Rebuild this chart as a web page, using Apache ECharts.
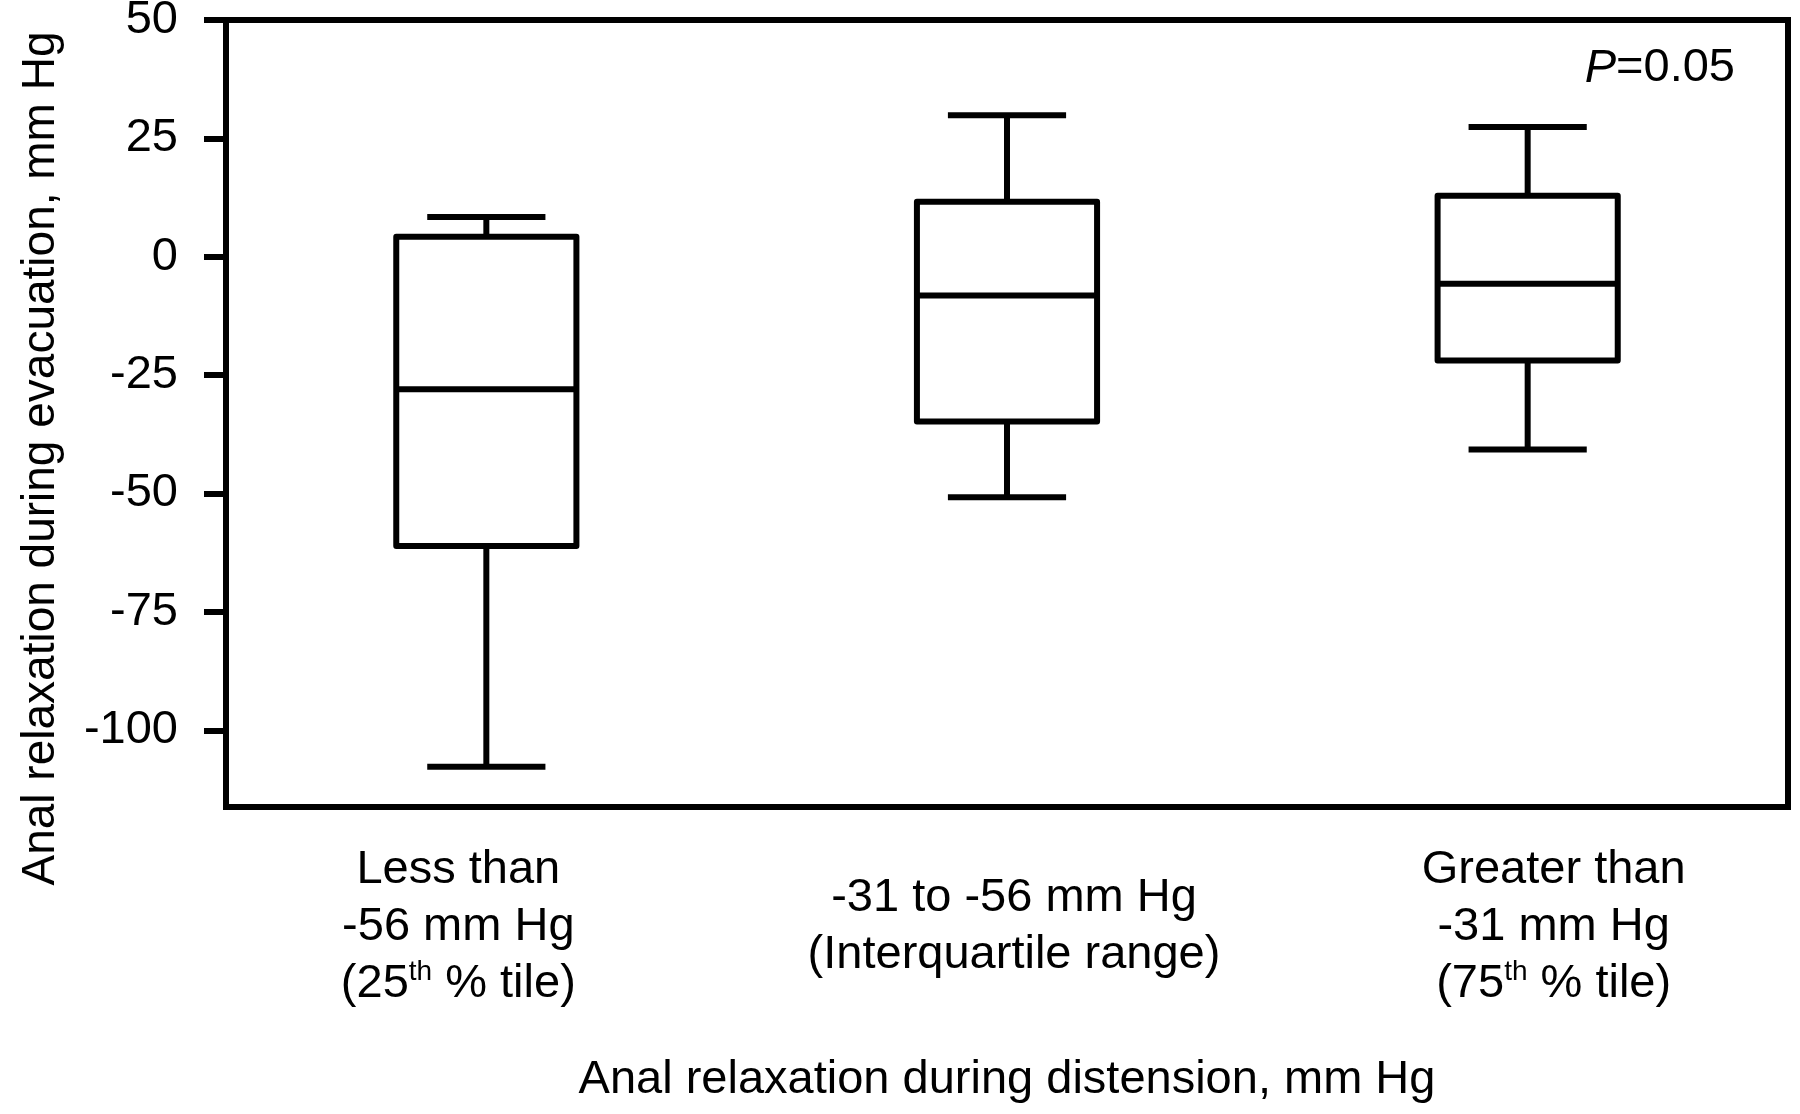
<!DOCTYPE html>
<html>
<head>
<meta charset="utf-8">
<script src="https://cdn.jsdelivr.net/npm/echarts@6/dist/echarts.min.js"></script>
<style>html,body{margin:0;padding:0;background:#fff}#c{width:1800px;height:1114px}</style>
</head>
<body>
<div id="c"></div>
<script>
// ---- data ----
const categories = [
  'Less than\n-56 mm Hg\n({n|25}{s|th}{n| % tile})',
  '-31 to -56 mm Hg\n(Interquartile range)',
  'Greater than\n-31 mm Hg\n({n|75}{s|th}{n| % tile})'
];
const whiskerLow  = [-107.7, -50.8, -40.7];
const q1          = [-61.1, -34.8, -21.9];
const median      = [-28.0, -8.2, -5.7];
const q3          = [4.2, 11.6, 12.9];
const whiskerHigh = [8.4, 29.9, 27.4];
const yTicks = [-100, -75, -50, -25, 0, 25, 50];
const yMin = -116.2, yMax = 50;
const pText = '{i|P}=0.05';
const xTitle = 'Anal relaxation during distension, mm Hg';
const yTitle = 'Anal relaxation during evacuation, mm Hg';

const FONT = 'Liberation Sans, Arial, sans-serif';
const FS = 47;
const labelPad = [[0, 56, 0, 0], [28, 0, 0, 14], [0, 0, 0, 52]];

const seriesData = categories.map((c, i) => [i, whiskerLow[i], q1[i], median[i], q3[i], whiskerHigh[i]]);

const chart = echarts.init(document.getElementById('c'));
chart.setOption({
  animation: false,
  backgroundColor: '#fff',
  textStyle: { fontFamily: FONT, color: '#000' },
  title: {
    text: pText,
    right: 60, top: 40,
    textStyle: {
      fontFamily: FONT, fontSize: FS, fontWeight: 'normal', color: '#000',
      rich: { i: { fontFamily: FONT, fontSize: FS, fontStyle: 'italic', color: '#000' } }
    }
  },
  grid: { left: 226, right: 12, top: 20, bottom: 307, show: true, borderColor: '#000', borderWidth: 6, outerBoundsMode: 'none', containLabel: false },
  xAxis: {
    type: 'category',
    data: categories.map((c, i) => ({ value: c, textStyle: { padding: labelPad[i] } })),
    boundaryGap: true,
    axisLine: { onZero: false, lineStyle: { color: '#000', width: 6 } },
    axisTick: { show: false },
    axisLabel: {
      interval: 0, margin: 35,
      fontFamily: FONT, fontSize: FS, lineHeight: 57, color: '#000',
      rich: {
        n: { fontFamily: FONT, fontSize: FS, lineHeight: 57, color: '#000' },
        s: { fontFamily: FONT, fontSize: 28, lineHeight: 57, verticalAlign: 'top', color: '#000', padding: [2, 0, 0, 0] }
      }
    },
    name: xTitle, nameLocation: 'middle', nameGap: 250, nameMoveOverlap: false,
    nameTextStyle: { fontFamily: FONT, fontSize: FS, color: '#000' },
    splitLine: { show: false }
  },
  yAxis: {
    type: 'value', min: yMin, max: yMax,
    axisLine: { show: true, onZero: false, lineStyle: { color: '#000', width: 6 } },
    axisTick: { show: true, length: 22, lineStyle: { color: '#000', width: 6 }, customValues: yTicks },
    axisLabel: { margin: 48, fontFamily: FONT, fontSize: FS, color: '#000', customValues: yTicks },
    splitLine: { show: false },
    name: yTitle, nameLocation: 'middle', nameGap: 162, nameRotate: 90, nameMoveOverlap: false,
    nameTextStyle: { fontFamily: FONT, fontSize: 46, color: '#000', padding: [0, 90, 0, 0] }
  },
  series: [{
    type: 'custom',
    data: seriesData,
    encode: { x: 0, y: [1, 2, 3, 4, 5] },
    renderItem: function (params, api) {
      const idx = api.value(0);
      const band = api.size([1, 0])[0];
      const boxW = band * 0.346, capW = band * 0.227;
      const pLow = api.coord([idx, api.value(1)]);
      const pQ1 = api.coord([idx, api.value(2)]);
      const pMed = api.coord([idx, api.value(3)]);
      const pQ3 = api.coord([idx, api.value(4)]);
      const pHigh = api.coord([idx, api.value(5)]);
      const cx = pMed[0];
      const st = { stroke: '#000', lineWidth: 6, fill: null };
      return {
        type: 'group',
        children: [
          { type: 'line', shape: { x1: cx, y1: pHigh[1], x2: cx, y2: pQ3[1] }, style: st },
          { type: 'line', shape: { x1: cx - capW / 2, y1: pHigh[1], x2: cx + capW / 2, y2: pHigh[1] }, style: st },
          { type: 'line', shape: { x1: cx, y1: pLow[1], x2: cx, y2: pQ1[1] }, style: st },
          { type: 'line', shape: { x1: cx - capW / 2, y1: pLow[1], x2: cx + capW / 2, y2: pLow[1] }, style: st },
          { type: 'rect', shape: { x: cx - boxW / 2, y: pQ3[1], width: boxW, height: pQ1[1] - pQ3[1] }, style: { stroke: '#000', lineWidth: 6, fill: '#fff', lineJoin: 'round' } },
          { type: 'line', shape: { x1: cx - boxW / 2, y1: pMed[1], x2: cx + boxW / 2, y2: pMed[1] }, style: st }
        ]
      };
    }
  }]
});
</script>
</body>
</html>
